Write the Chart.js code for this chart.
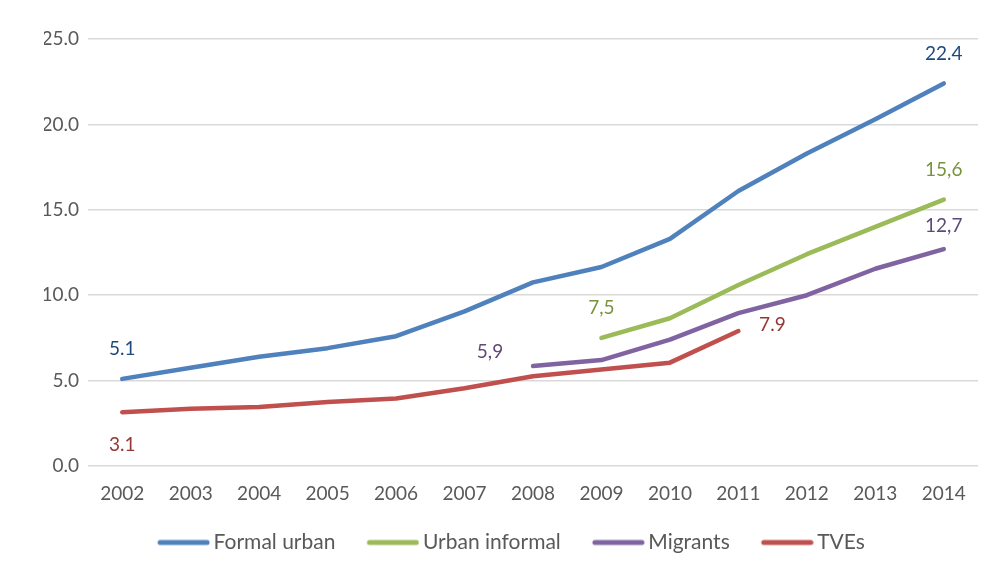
<!DOCTYPE html>
<html>
<head>
<meta charset="utf-8">
<script src="https://cdn.jsdelivr.net/npm/chart.js@4/dist/chart.umd.min.js"></script>
<style>
  html, body { margin: 0; padding: 0; background: #fff; }
  #wrap { width: 990px; height: 573px; }
</style>
</head>
<body>
<div id="wrap"><canvas id="myChart"></canvas></div>
<script>
const years = ["2002", "2003", "2004", "2005", "2006", "2007", "2008", "2009", "2010", "2011", "2012", "2013", "2014"];

const formalUrban = [5.1, 5.75, 6.4, 6.9, 7.6, 9.05, 10.75, 11.65, 13.3, 16.1, 18.3, 20.3, 22.4];
const urbanInformal = [null, null, null, null, null, null, null, 7.5, 8.65, 10.6, 12.4, 14.0, 15.6];
const migrants = [null, null, null, null, null, null, 5.85, 6.2, 7.4, 8.95, 10.0, 11.55, 12.7];
const tves = [3.15, 3.35, 3.45, 3.75, 3.95, 4.55, 5.25, 5.65, 6.05, 7.9, null, null, null];

const seriesColors = ["#4F81BD", "#9BBB59", "#8064A2", "#C0504D"];
const labelColors = ["#1F497D", "#77933C", "#5F497A", "#953735"];

// point labels: [dataset index, point index, text, dx, dy]
const pointLabels = [
  [0, 0, "5.1", 0, -30],
  [0, 12, "22.4", 0, -30],
  [1, 7, "7,5", 0, -30],
  [1, 12, "15,6", 0, -30],
  [2, 6, "5,9", -43, -14],
  [2, 12, "12,7", 0, -23],
  [3, 0, "3.1", 0, 33],
  [3, 9, "7.9", 34, -6]
];

const pointLabelPlugin = {
  id: "pointLabelPlugin",
  afterDatasetsDraw(chart) {
    const ctx = chart.ctx;
    ctx.save();
    ctx.font = "19px Lato";
    ctx.textAlign = "center";
    ctx.textBaseline = "middle";
    pointLabels.forEach(([ds, i, text, dx, dy]) => {
      const pt = chart.getDatasetMeta(ds).data[i];
      ctx.fillStyle = labelColors[ds];
      ctx.fillText(text, pt.x + dx, pt.y + dy);
    });
    ctx.restore();
  }
};

// legend line marker, drawn a bit to the right so it sits close to the text
const legendMarker = (color) => {
  const c = document.createElement("canvas");
  c.width = 60;
  c.height = 10;
  const g = c.getContext("2d");
  g.strokeStyle = color;
  g.lineWidth = 5;
  g.lineCap = "round";
  g.beginPath();
  g.moveTo(10, 5);
  g.lineTo(57, 5);
  g.stroke();
  return c;
};
const legendMarkers = seriesColors.map(legendMarker);

const makeSet = (label, data, color) => ({
  label: label,
  data: data,
  borderColor: color,
  backgroundColor: color,
  borderWidth: 4.5,
  pointRadius: 0,
  pointHoverRadius: 0,
  tension: 0,
  borderCapStyle: "round",
  borderJoinStyle: "round",
  spanGaps: false
});

new Chart(document.getElementById("myChart"), {
  type: "line",
  data: {
    labels: years,
    datasets: [
      makeSet("Formal urban", formalUrban, seriesColors[0]),
      makeSet("Urban informal", urbanInformal, seriesColors[1]),
      makeSet("Migrants", migrants, seriesColors[2]),
      makeSet("TVEs", tves, seriesColors[3])
    ]
  },
  options: {
    responsive: true,
    maintainAspectRatio: false,
    animation: false,
    layout: {
      padding: { left: 44, right: 12, top: 39, bottom: 10 }
    },
    plugins: {
      tooltip: { enabled: false },
      legend: {
        position: "bottom",
        labels: {
          usePointStyle: true,
          pointStyleWidth: 46,
          color: "#595959",
          font: { family: "Lato", size: 21 },
          padding: 31,
          generateLabels: (chart) => {
            const items = Chart.defaults.plugins.legend.labels.generateLabels(chart);
            items.forEach((item, i) => { item.pointStyle = legendMarkers[i]; });
            return items;
          }
        }
      }
    },
    scales: {
      x: {
        offset: true,
        grid: { display: false, offset: true },
        border: { display: false },
        ticks: {
          color: "#595959",
          font: { family: "Lato", size: 19 },
          padding: 8,
          maxRotation: 0
        },
        afterFit: (scale) => { scale.height = 35; }
      },
      y: {
        min: 0,
        max: 25,
        grid: { color: "#D9D9D9", lineWidth: 1.5, drawTicks: false },
        border: { display: false },
        ticks: {
          stepSize: 5,
          color: "#595959",
          font: { family: "Lato", size: 19 },
          padding: 9,
          callback: (v) => v.toFixed(1)
        },
        afterFit: (scale) => { scale.width = 44; }
      }
    }
  },
  plugins: [pointLabelPlugin]
});
</script>
</body>
</html>
